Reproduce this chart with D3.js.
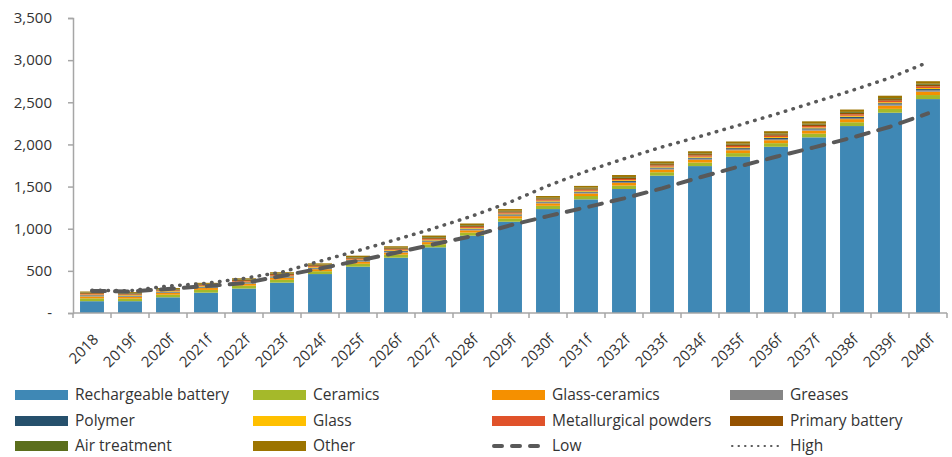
<!DOCTYPE html>
<html>
<head>
<meta charset="utf-8">
<script src="https://cdn.jsdelivr.net/npm/d3@7"></script>
<style>
  body { margin: 0; background: #fff; }
  svg text { font-family: "Open Sans", "Noto Sans", sans-serif; fill: #333; }
</style>
</head>
<body>
<svg id="chart" width="952" height="457"></svg>
<script>
// categories
const years = ["2018", "2019f", "2020f", "2021f", "2022f", "2023f", "2024f", "2025f", "2026f", "2027f",
  "2028f", "2029f", "2030f", "2031f", "2032f", "2033f", "2034f", "2035f", "2036f", "2037f", "2038f", "2039f", "2040f"];

// stacked series, bottom to top
const rechargeable = [140, 140, 186, 241, 290, 360, 462, 549, 656, 779, 917, 1083, 1233, 1348, 1471, 1629, 1743, 1854, 1972, 2084, 2218, 2376, 2538];
const ceramics = [34, 31, 31, 33, 34, 34, 34, 35, 36, 36, 37, 38, 39, 40, 41, 41, 42, 43, 43, 44, 45, 46, 48];
const glassCeramics = [22, 20, 21, 22, 23, 23, 24, 24, 25, 26, 27, 28, 29, 30, 31, 32, 33, 34, 35, 36, 37, 38, 40];
const greases = [8, 8, 8, 8, 9, 9, 9, 9, 10, 10, 10, 11, 11, 11, 12, 12, 13, 13, 13, 14, 14, 15, 16];
const polymer = [7, 7, 7, 8, 8, 8, 8, 9, 9, 9, 10, 10, 10, 11, 11, 12, 12, 12, 13, 13, 14, 14, 15];
const glass = [8, 7, 7, 8, 8, 8, 8, 8, 9, 9, 9, 9, 10, 10, 10, 10, 11, 11, 11, 11, 12, 12, 12];
const metallurgical = [9, 8, 8, 9, 9, 10, 10, 10, 11, 11, 12, 12, 13, 13, 14, 14, 15, 15, 16, 16, 17, 18, 19];
const primaryBattery = [10, 10, 10, 11, 11, 11, 12, 12, 12, 13, 13, 14, 14, 15, 15, 16, 16, 17, 17, 18, 18, 19, 20];
const airTreatment = [6, 6, 6, 6, 7, 7, 7, 7, 7, 8, 8, 8, 8, 9, 9, 9, 9, 10, 10, 10, 11, 11, 12];
const other = [11, 11, 12, 12, 13, 14, 15, 17, 17, 18, 19, 20, 21, 21, 23, 24, 25, 26, 27, 28, 28, 29, 30];

// scenario lines
const low = [262, 255, 285, 318, 355, 440, 528, 620, 715, 815, 913, 1040, 1150, 1253, 1360, 1479, 1610, 1735, 1854, 1965, 2080, 2210, 2368];
const high = [270, 264, 320, 352, 411, 485, 615, 740, 870, 1005, 1150, 1315, 1510, 1680, 1830, 1970, 2095, 2225, 2360, 2500, 2640, 2790, 2975];

const yTicks = [0, 500, 1000, 1500, 2000, 2500, 3000, 3500];

const series = [
  { name: "Rechargeable battery", values: rechargeable, color: "#3f88b5" },
  { name: "Ceramics", values: ceramics, color: "#a5b92a" },
  { name: "Glass-ceramics", values: glassCeramics, color: "#f59000" },
  { name: "Greases", values: greases, color: "#858585" },
  { name: "Polymer", values: polymer, color: "#26506c" },
  { name: "Glass", values: glass, color: "#ffc000" },
  { name: "Metallurgical powders", values: metallurgical, color: "#e0522a" },
  { name: "Primary battery", values: primaryBattery, color: "#955200" },
  { name: "Air treatment", values: airTreatment, color: "#5b6e1c" },
  { name: "Other", values: other, color: "#9c7400" }
];

const svg = d3.select("#chart");
const margin = { left: 73, right: 5, top: 18, bottom: 144 };
const width = 952 - margin.left - margin.right;
const height = 457 - margin.top - margin.bottom;
const axisColor = "#a6a6a6";

const g = svg.append("g").attr("transform", `translate(${margin.left},${margin.top})`);

const x = d3.scaleBand().domain(years).range([0, width]).paddingInner(0.37).paddingOuter(0.185);
const xb = d3.scaleBand().domain(years).range([0, width]); // band boundaries for ticks
const y = d3.scaleLinear().domain([0, 3500]).range([height, 0]);

// stacked data
const rows = years.map((yr, i) => {
  const r = { year: yr };
  series.forEach(s => { r[s.name] = s.values[i]; });
  return r;
});
const stack = d3.stack().keys(series.map(s => s.name))(rows);

g.selectAll(".layer")
  .data(stack)
  .join("g")
  .attr("class", "layer")
  .attr("fill", (d, i) => series[i].color)
  .selectAll("rect")
  .data(d => d)
  .join("rect")
  .attr("x", d => x(d.data.year))
  .attr("width", x.bandwidth())
  .attr("y", d => y(d[1]))
  .attr("height", d => y(d[0]) - y(d[1]));

// lines through band centres
const line = d3.line()
  .x((d, i) => xb(years[i]) + xb.bandwidth() / 2)
  .y(d => y(d));

g.append("path").datum(low)
  .attr("d", line)
  .attr("fill", "none")
  .attr("stroke", "#595959")
  .attr("stroke-width", 4)
  .attr("stroke-dasharray", "13 10")
  .attr("stroke-linecap", "round");

g.append("path").datum(high)
  .attr("d", line)
  .attr("fill", "none")
  .attr("stroke", "#595959")
  .attr("stroke-width", 3.5)
  .attr("stroke-dasharray", "0.5 7.5")
  .attr("stroke-linecap", "round");

// y axis
const yAxis = g.append("g")
  .call(d3.axisLeft(y).tickValues(yTicks).tickSize(5).tickPadding(16)
    .tickFormat(d => d === 0 ? "-" : d3.format(",")(d)));
yAxis.select(".domain").attr("stroke", axisColor).attr("stroke-width", 1.5);
yAxis.selectAll(".tick line").attr("stroke", axisColor).attr("stroke-width", 1.5);
yAxis.selectAll(".tick text").attr("font-size", 15).attr("fill", "#333");

// x axis
const xAxisG = g.append("g").attr("transform", `translate(0,${height})`);
xAxisG.append("line")
  .attr("x1", 0).attr("x2", width)
  .attr("stroke", axisColor).attr("stroke-width", 1.5);
xAxisG.selectAll(".xtick")
  .data(years.concat(["end"]))
  .join("line")
  .attr("class", "xtick")
  .attr("x1", (d, i) => i * xb.step())
  .attr("x2", (d, i) => i * xb.step())
  .attr("y1", 0).attr("y2", 5)
  .attr("stroke", axisColor).attr("stroke-width", 1.5);
xAxisG.selectAll(".xlabel")
  .data(years)
  .join("text")
  .attr("class", "xlabel")
  .attr("transform", d => `translate(${xb(d) + xb.bandwidth() / 2},${20}) rotate(-45)`)
  .attr("text-anchor", "end")
  .attr("dy", "0.7em")
  .attr("font-size", 15)
  .text(d => d);

// legend
const legendItems = series.map(s => ({ name: s.name, color: s.color, type: "rect" }))
  .concat([{ name: "Low", type: "dash" }, { name: "High", type: "dot" }]);
const colX = [15, 253, 492, 730];
const rowY = [395, 421, 446];

const leg = svg.append("g");
legendItems.forEach((item, i) => {
  const cx = colX[i % 4];
  const cy = rowY[Math.floor(i / 4)];
  if (item.type === "rect") {
    leg.append("rect").attr("x", cx).attr("y", cy - 5).attr("width", 53).attr("height", 10).attr("fill", item.color);
  } else if (item.type === "dash") {
    leg.append("line").attr("x1", cx + 2).attr("x2", cx + 53).attr("y1", cy).attr("y2", cy)
      .attr("stroke", "#595959").attr("stroke-width", 4).attr("stroke-dasharray", "8 10").attr("stroke-linecap", "round");
  } else {
    leg.append("line").attr("x1", cx + 2).attr("x2", cx + 53).attr("y1", cy).attr("y2", cy)
      .attr("stroke", "#595959").attr("stroke-width", 2).attr("stroke-dasharray", "0.5 6").attr("stroke-linecap", "round");
  }
  leg.append("text").attr("x", cx + 60).attr("y", cy).attr("dy", "0.35em")
    .attr("font-size", 15.5).text(item.name);
});
</script>
</body>
</html>
